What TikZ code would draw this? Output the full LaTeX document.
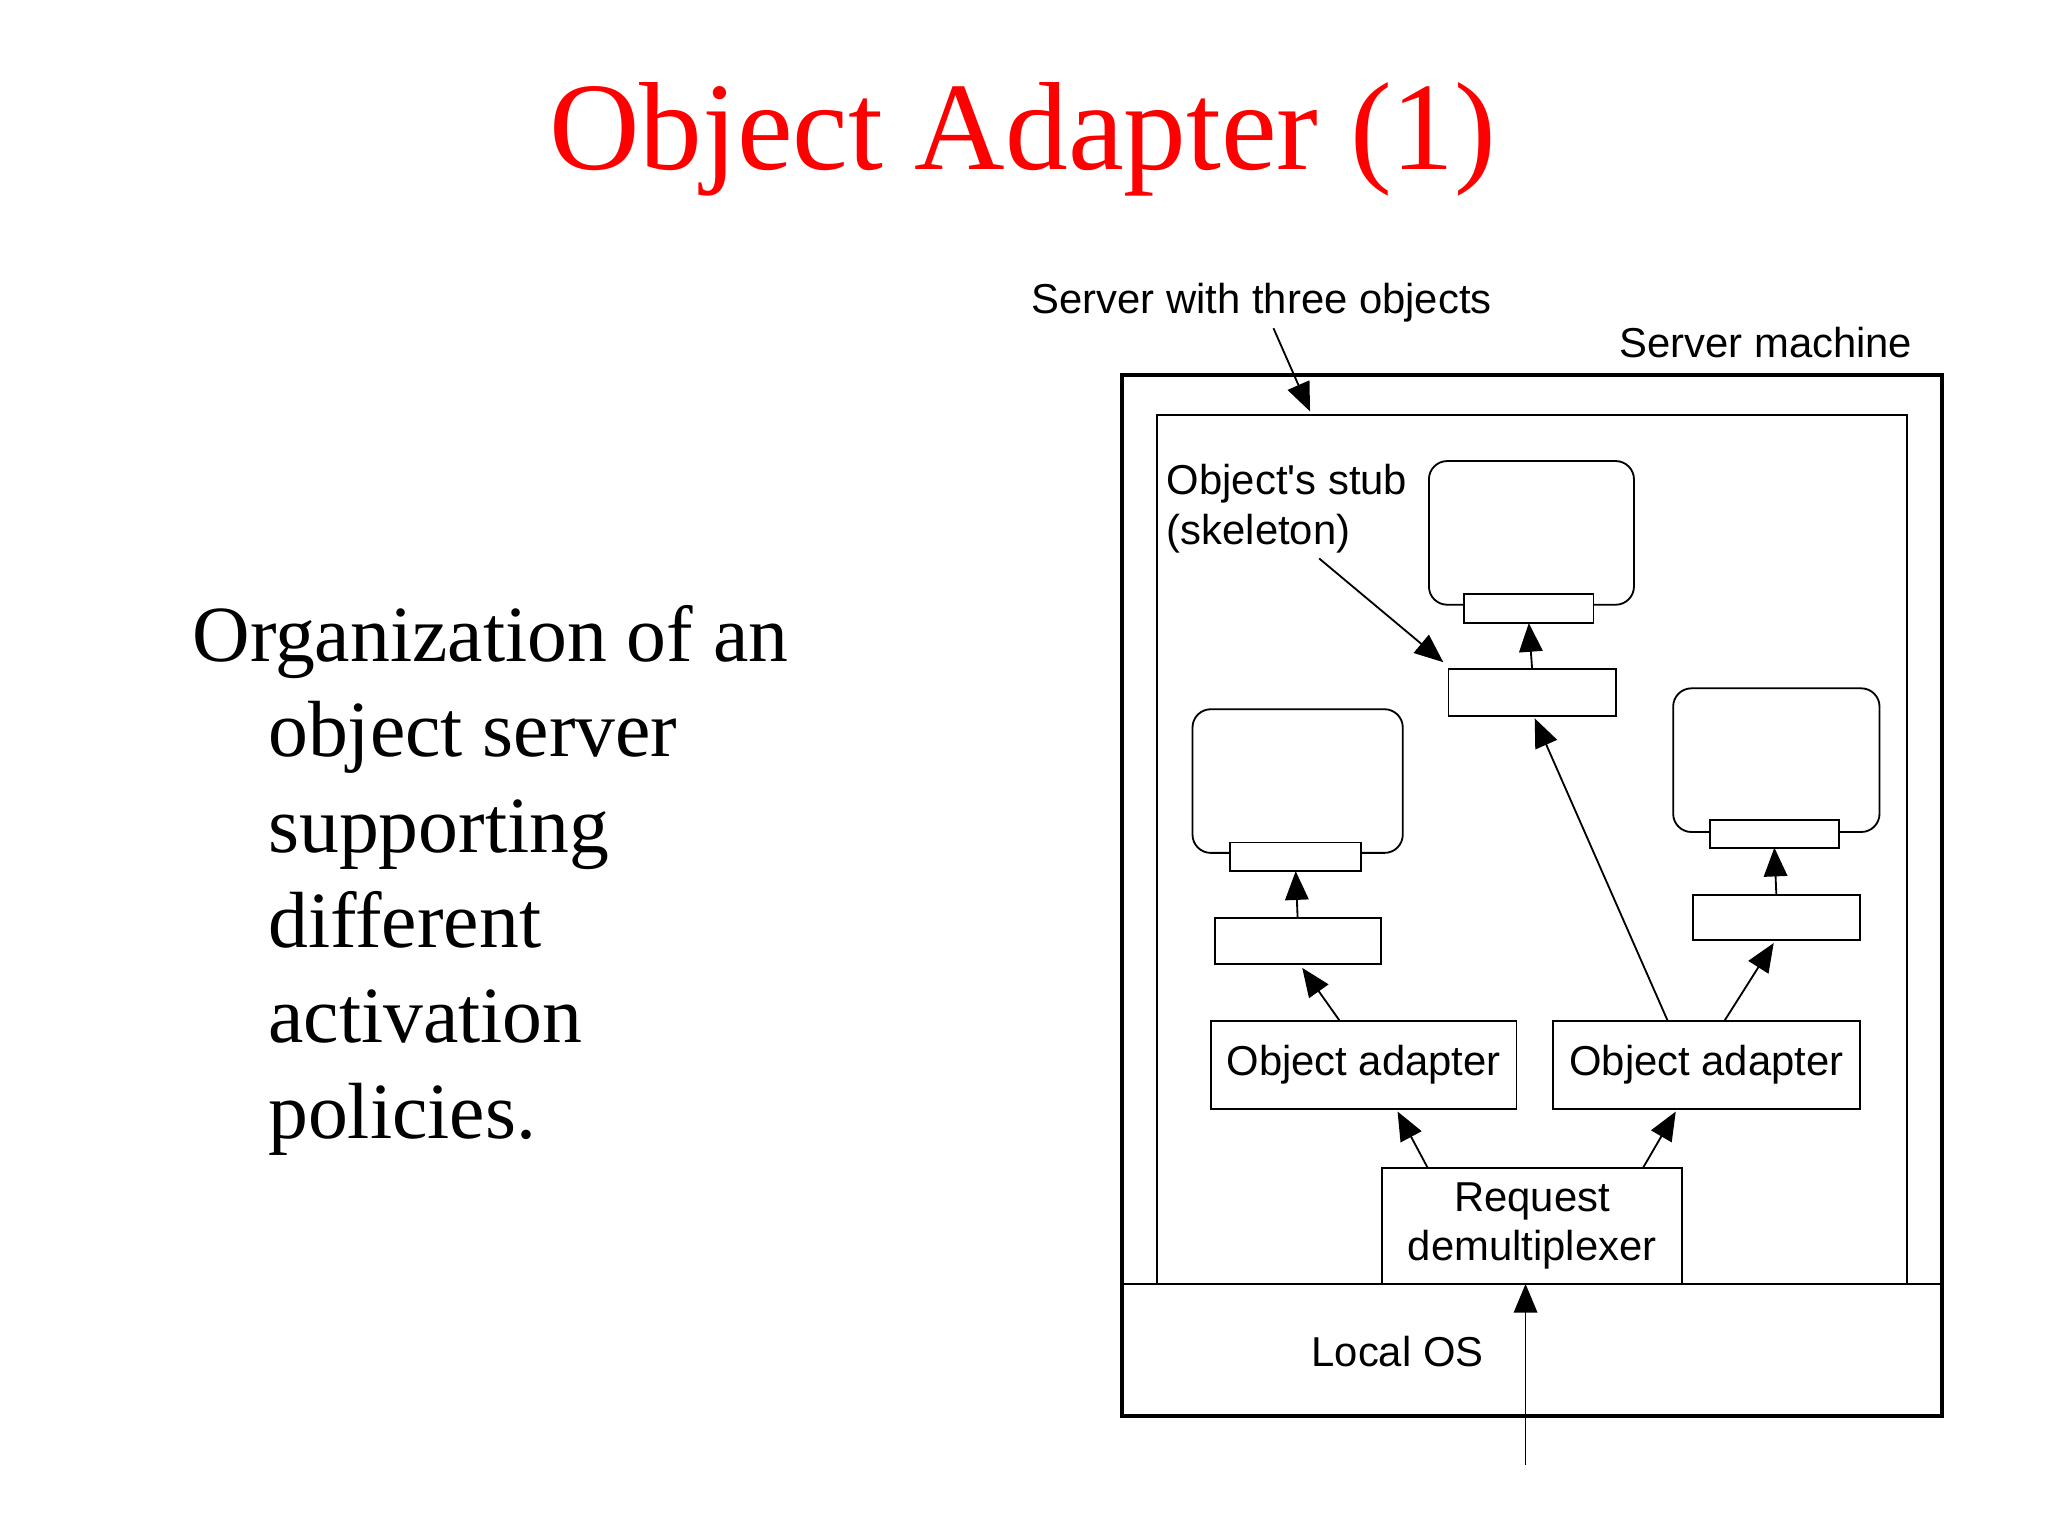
\documentclass[tikz,border=0pt]{standalone}
\usepackage{fontspec}
\setmainfont{Liberation Serif}
\newfontfamily\diag{Liberation Sans}
\usetikzlibrary{arrows.meta,calc}
\begin{document}
\begin{tikzpicture}[x=0.5pt,y=-0.5pt,
  bx/.style={draw,inner sep=0,outer sep=0,line width=0.7pt},
  obj/.style={bx,rounded corners=7pt},
  stub/.style={bx,fill=white},
  lab/.style={font=\diag\fontsize{16}{19}\selectfont,inner sep=0},
  arr/.style={line width=0.7pt,-{Triangle[length=11pt,width=9pt]}}]
\useasboundingbox (0,0) rectangle (1568,1176);
\node[red,font=\fontsize{48}{56}\selectfont] (title) at (783,107) {Object Adapter (1)};
\node[anchor=north west,align=left,font=\fontsize{30.5}{36.5}\selectfont,inner sep=0] (body) at (147,463)
 {Organization of an\\\hspace*{29pt}object server\\\hspace*{29pt}supporting\\\hspace*{29pt}different\\\hspace*{29pt}activation\\\hspace*{29pt}policies.};
\node[bx,line width=1.6pt,minimum width=314pt,minimum height=398.5pt] (outer) at (1173,685.5) {};
\node[bx,minimum width=287pt,minimum height=332.5pt] (inner) at (1173,650.5) {};
\draw[line width=0.7pt] (outer.west |- 0,983) coordinate (osl) -- (outer.east |- 0,983) coordinate (osr);
\node[obj,minimum width=78.5pt,minimum height=55pt] (tobj) at (1172.5,408) {};
\node[stub,minimum width=49.5pt,minimum height=11pt] (tstub) at (1170.5,466) {};
\node[bx,minimum width=64pt,minimum height=18pt] (tskel) at (1173,530) {};
\node[obj,minimum width=80.5pt,minimum height=55pt] (lobj) at (993.5,598) {};
\node[stub,minimum width=50pt,minimum height=11pt] (lstub) at (992,656) {};
\node[bx,minimum width=63.5pt,minimum height=17.5pt] (lskel) at (993.5,720.5) {};
\node[obj,minimum width=79pt,minimum height=55pt] (robj) at (1360,582) {};
\node[stub,minimum width=49.5pt,minimum height=10.5pt] (rstub) at (1358.5,638.5) {};
\node[bx,minimum width=64pt,minimum height=17.5pt] (rskel) at (1360,702.5) {};
\node[bx,lab,minimum width=117pt,minimum height=33.5pt] (oal) at (1044,815.5) {Object adapter};
\node[bx,lab,minimum width=117.5pt,minimum height=33.5pt] (oar) at (1306.5,815.5) {Object adapter};
\node[bx,lab,fill=white,align=center,minimum width=115pt,minimum height=44.5pt] (dem) at (1173,938.5) {Request\\demultiplexer};
\node[lab] (los) at (1070,1035) {Local OS};
\node[lab] (swt) at (966,232) {Server with three objects};
\node[lab] (sm) at (1352,262) {Server machine};
\node[lab,anchor=north west,align=left] (stb) at (893,355) {Object's stub\\(skeleton)};
\coordinate (in) at (1168,1122);
\draw[arr] (tskel.north) -- (tstub.south);
\draw[arr] (lskel.north) -- (lstub.south);
\draw[arr] (rskel.north) -- (rstub.south);
\draw[arr] ($(oal.north west)+(99,0)$) -- ($(lskel.south west)+(67,3)$);
\draw[arr] ($(oar.north west)+(88,0)$) -- ($(tskel.south west)+(66,2)$);
\draw[arr] ($(oar.north west)+(131,0)$) -- ($(rskel.south west)+(62,2)$);
\draw[arr] ($(dem.north west)+(35,0)$) -- ($(oal.south west)+(143,2)$);
\draw[arr] ($(dem.north west)+(200,0)$) -- ($(oar.south west)+(94,2)$);
\draw[arr] (in) -- (in |- dem.south);
\draw[arr] ($(swt.south)+(9,4)$) -- ($(inner.north west)+(117,-3)$);
\draw[arr] ($(stb.south west)+(117,4)$) -- ($(tskel.north west)+(-4,-5)$);
\end{tikzpicture}
\end{document}
